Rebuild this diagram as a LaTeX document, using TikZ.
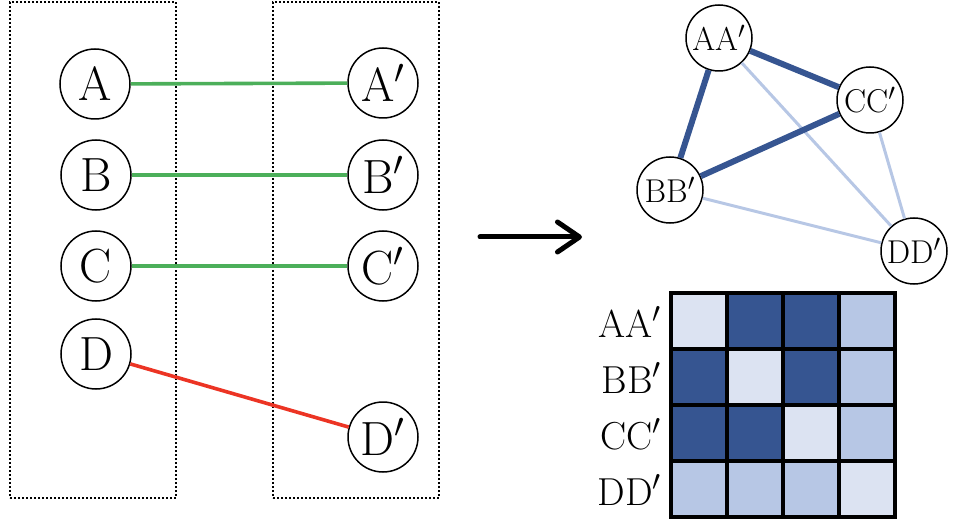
\documentclass[tikz,border=0pt]{standalone}
\usepackage{xcolor}
\usepackage{tikz}
\usetikzlibrary{arrows.meta, positioning}

\definecolor{matchgreen}{RGB}{76,175,90}
\definecolor{missred}{RGB}{236,52,36}
\definecolor{darkblue}{RGB}{54,85,145}
\definecolor{midblue}{RGB}{183,199,229}
\definecolor{paleblue}{RGB}{220,227,242}

\begin{document}
\begin{tikzpicture}[
    x=0.5pt, y=-0.5pt,
    set_box/.style={rectangle, draw=black, line width=0.8pt, dash pattern=on 0.9pt off 1.1pt, minimum width=83pt, minimum height=248pt, inner sep=0pt},
    pt_node/.style={circle, draw=black, line width=0.75pt, fill=white, minimum size=35pt, inner sep=0pt, font=\fontsize{24}{27}\selectfont},
    pair_node/.style={circle, draw=black, line width=0.75pt, fill=white, minimum size=33pt, inner sep=0pt, font=\fontsize{16.5}{18}\selectfont},
    match_line/.style={draw=matchgreen, line width=1.8pt},
    miss_line/.style={draw=missred, line width=1.8pt},
    big_arrow/.style={draw=black, line width=2.5pt, line cap=round, -{Straight Barb[length=11pt, width=15pt, round]}},
    strong_edge/.style={draw=darkblue, line width=3pt},
    weak_edge/.style={draw=midblue, line width=1.5pt},
    cell/.style={rectangle, draw=black, line width=2pt, minimum size=28pt, inner sep=0pt},
    row_label/.style={anchor=east, inner sep=0pt, font=\fontsize{19.5}{22}\selectfont}
]
    \useasboundingbox (0,0) rectangle (965,524);

    % =========================================================================
    % LEFT: TWO POINT SETS AND THEIR MATCHES
    % =========================================================================
    \node [set_box] (set_left) at (93,250) {};
    \node [set_box] (set_right) at (356,250) {};

    \node [pt_node] (a) at (95,84) {A};
    \node [pt_node] (b) at (96,175) {B};
    \node [pt_node] (c) at (96,266) {C};
    \node [pt_node] (d) at (96,354) {D};

    \node [pt_node] (a2) at (383,83) {A$'$};
    \node [pt_node] (b2) at (383,175) {B$'$};
    \node [pt_node] (c2) at (383,266) {C$'$};
    \node [pt_node] (d2) at (383,437) {D$'$};

    \draw [match_line] (a) -- (a2);
    \draw [match_line] (b) -- (b2);
    \draw [match_line] (c) -- (c2);
    \draw [miss_line] (d) -- (d2);

    % =========================================================================
    % ARROW
    % =========================================================================
    \coordinate (arrow_tail) at (480,237);
    \coordinate (arrow_tip) at (582,237);
    \draw [big_arrow] (arrow_tail) -- (arrow_tip);

    % =========================================================================
    % RIGHT TOP: PAIR GRAPH
    % =========================================================================
    \node [pair_node] (aa) at (719,38) {AA$'$};
    \node [pair_node] (bb) at (670,190) {BB$'$};
    \node [pair_node] (cc) at (870,100) {CC$'$};
    \node [pair_node] (dd) at (914,251) {DD$'$};

    \draw [weak_edge] (aa) -- (dd);
    \draw [weak_edge] (bb) -- (dd);
    \draw [weak_edge] (cc) -- (dd);
    \draw [strong_edge] (aa) -- (cc);
    \draw [strong_edge] (aa) -- (bb);
    \draw [strong_edge] (bb) -- (cc);

    % =========================================================================
    % RIGHT BOTTOM: AFFINITY MATRIX
    % =========================================================================
    \node [row_label] (lab_aa) at (662,322) {AA$'$};
    \node [row_label] (lab_bb) at (662,378) {BB$'$};
    \node [row_label] (lab_cc) at (662,434) {CC$'$};
    \node [row_label] (lab_dd) at (662,490) {DD$'$};

    \node [cell, fill=paleblue] (m11) at (699,321) {};
    \node [cell, fill=darkblue] (m12) at (755,321) {};
    \node [cell, fill=darkblue] (m13) at (811,321) {};
    \node [cell, fill=midblue] (m14) at (867,321) {};

    \node [cell, fill=darkblue] (m21) at (699,377) {};
    \node [cell, fill=paleblue] (m22) at (755,377) {};
    \node [cell, fill=darkblue] (m23) at (811,377) {};
    \node [cell, fill=midblue] (m24) at (867,377) {};

    \node [cell, fill=darkblue] (m31) at (699,433) {};
    \node [cell, fill=darkblue] (m32) at (755,433) {};
    \node [cell, fill=paleblue] (m33) at (811,433) {};
    \node [cell, fill=midblue] (m34) at (867,433) {};

    \node [cell, fill=midblue] (m41) at (699,489) {};
    \node [cell, fill=midblue] (m42) at (755,489) {};
    \node [cell, fill=midblue] (m43) at (811,489) {};
    \node [cell, fill=paleblue] (m44) at (867,489) {};
\end{tikzpicture}
\end{document}
